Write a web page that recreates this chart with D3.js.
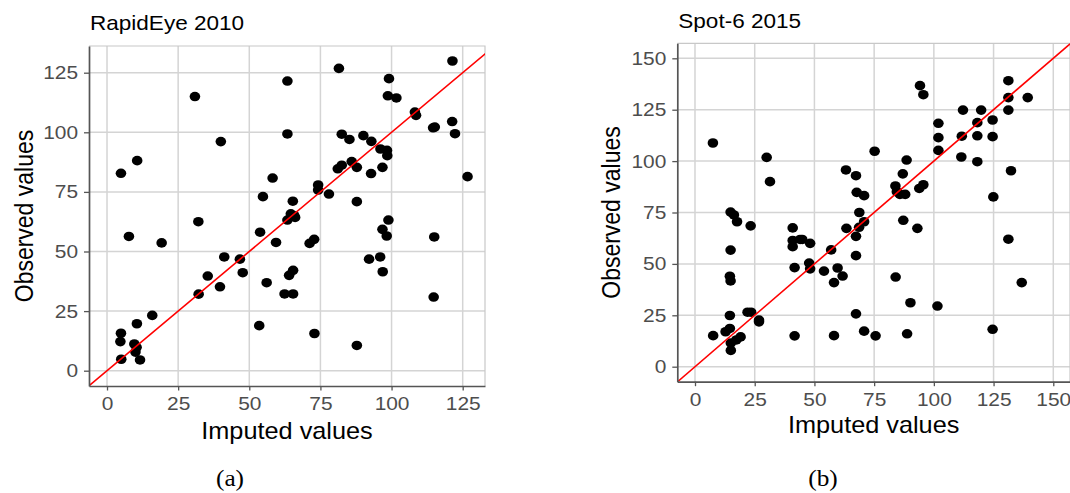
<!DOCTYPE html>
<html>
<head>
<meta charset="utf-8">
<script src="https://cdn.jsdelivr.net/npm/d3@7"></script>
<style>
  body { margin: 0; background: #fff; }
  svg { display: block; font-family: "Liberation Sans", Arial, sans-serif; }
</style>
</head>
<body>
<svg id="chart" width="1070" height="493"></svg>
<script>
// RapidEye 2010 : imputed vs observed
var rapidImputed = [81.5, 63.4, 30.9, 99.1, 98.7, 101.7, 121.4, 108.2, 108.6, 114.6, 115.2, 121.3, 122.3, 63.4, 40.0,
  82.5, 85.2, 90.1, 92.9, 96.1, 98.4, 98.5, 4.9, 10.6, 81.1, 82.5, 86.0, 87.8, 96.8, 92.8, 126.7, 58.2, 74.2, 74.2,
  78.0, 54.8, 65.3, 87.8, 32.1, 63.4, 64.6, 65.8, 66.1, 7.7, 19.2, 53.8, 59.4, 71.2, 72.8, 98.9, 96.8, 98.3, 115.0,
  41.2, 46.7, 47.7, 35.4, 39.7, 56.1, 64.0, 65.4, 62.4, 65.4, 32.2, 92.1, 96.0, 96.9, 114.8, 15.9, 10.5, 4.9, 4.7,
  9.6, 10.4, 10.0, 5.0, 11.6, 53.5, 72.9, 87.8];
var rapidObserved = [126.8, 121.5, 115.0, 122.5, 115.3, 114.4, 129.9, 108.5, 107.1, 101.9, 102.2, 104.5, 99.4, 99.3, 96.1,
  99.2, 97.0, 98.6, 96.2, 93.0, 92.4, 90.2, 82.8, 88.1, 84.7, 86.2, 87.7, 85.3, 85.3, 82.7, 81.4, 80.8, 77.9, 75.8,
  74.1, 73.0, 71.1, 70.9, 62.5, 63.2, 65.8, 65.0, 64.3, 56.3, 53.6, 58.1, 53.8, 53.4, 55.1, 63.2, 59.3, 56.5, 56.1,
  47.7, 46.8, 41.1, 39.7, 35.2, 36.9, 40.0, 42.1, 32.2, 32.2, 32.1, 46.8, 47.7, 41.5, 30.9, 23.2, 19.7, 15.7, 12.2,
  11.2, 9.8, 7.8, 4.8, 4.5, 18.9, 15.6, 10.6];

// Spot-6 2015 : imputed vs observed
var spotImputed = [7.5, 30.0, 31.4, 75.2, 94.2, 95.6, 131.2, 131.2, 139.3, 131.2, 112.2, 119.8, 118.2, 124.6, 101.9,
  101.9, 111.7, 118.2, 124.6, 101.9, 111.5, 118.2, 132.3, 124.9, 131.2, 136.8, 124.6, 101.5, 90.2, 88.8, 84.0, 88.6,
  87.0, 83.9, 84.5, 85.8, 88.0, 87.2, 93.1, 93.9, 95.6, 63.2, 67.4, 67.7, 70.8, 68.8, 70.8, 68.7, 63.4, 67.4, 67.4,
  57.0, 54.0, 59.7, 61.8, 58.2, 67.4, 70.8, 75.6, 58.2, 41.7, 40.9, 40.9, 40.9, 44.0, 44.9, 48.2, 41.7, 47.8, 48.2,
  14.9, 16.3, 17.6, 23.3, 14.9, 14.6, 14.9, 14.6, 22.0, 23.5, 26.8, 26.8, 7.6, 12.8, 14.6, 15.0, 15.0, 17.3, 19.1];
var spotObserved = [108.8, 101.8, 90.0, 104.8, 136.7, 132.3, 139.1, 130.9, 130.9, 124.8, 124.8, 124.8, 118.7, 120.0, 118.4,
  111.4, 112.1, 112.3, 111.9, 105.2, 102.0, 99.7, 95.3, 82.6, 62.0, 40.9, 18.2, 29.5, 31.1, 16.0, 43.6, 100.5,
  93.8, 87.9, 85.1, 83.8, 83.8, 71.2, 67.3, 86.7, 88.5, 95.7, 92.9, 84.8, 83.2, 75.0, 70.5, 67.8, 67.3, 63.4, 54.0,
  56.8, 46.5, 48.0, 44.1, 40.9, 25.7, 17.3, 15.0, 15.1, 15.0, 67.5, 61.4, 58.4, 61.9, 61.9, 60.0, 48.2, 50.4, 47.6,
  75.2, 73.8, 70.5, 68.5, 56.7, 44.0, 41.7, 24.9, 26.5, 26.5, 22.7, 21.8, 15.1, 17.0, 18.6, 11.5, 7.9, 13.0, 14.5];

var rapidTicks = [0, 25, 50, 75, 100, 125];
var spotTicks = [0, 25, 50, 75, 100, 125, 150];
var titles = ["RapidEye 2010", "Spot-6 2015"];
var captions = ["(a)", "(b)"];
var xLabel = "Imputed values";
var yLabel = "Observed values";

// the source figure is a little wider than tall, so text gets a horizontal stretch
var STRETCH = 1.1;

var svg = d3.select("#chart");

var panels = [
  { title: titles[0], caption: captions[0], xs: rapidImputed, ys: rapidObserved, ticks: rapidTicks,
    xDomain: [-6.33, 132.84], yDomain: [-6.42, 136.2],
    left: 89, right: 485, top: 46, bottom: 386,
    titleY: 30, xTitleY: 439, yTitleX: 33, yTitleY: 216, captionX: 230 },
  { title: titles[1], caption: captions[1], xs: spotImputed, ys: spotObserved, ticks: spotTicks,
    xDomain: [-7.41, 157.0], yDomain: [-7.3, 157.3],
    left: 677.3, right: 1070, top: 43.3, bottom: 381.7,
    titleY: 27.5, xTitleY: 433, yTitleX: 620, yTitleY: 212.5, captionX: 823 }
];

function place(sel, x, y, rot) {
  sel.attr("transform", "translate(" + x + "," + y + ") scale(" + STRETCH + ",1)" + (rot ? " rotate(" + rot + ")" : ""));
}

panels.forEach(function(p, i) {
  var g = svg.append("g");

  var x = d3.scaleLinear().domain(p.xDomain).range([p.left, p.right]);
  var y = d3.scaleLinear().domain(p.yDomain).range([p.bottom, p.top]);

  // grid
  g.selectAll(".vgrid").data(p.ticks).enter().append("line")
    .attr("x1", function(d) { return x(d); }).attr("x2", function(d) { return x(d); })
    .attr("y1", p.top).attr("y2", p.bottom)
    .attr("stroke", "#d4d4d4").attr("stroke-width", 1.5);
  g.selectAll(".hgrid").data(p.ticks).enter().append("line")
    .attr("y1", function(d) { return y(d); }).attr("y2", function(d) { return y(d); })
    .attr("x1", p.left).attr("x2", p.right)
    .attr("stroke", "#d4d4d4").attr("stroke-width", 1.5);

  // light top / right border
  g.append("path")
    .attr("d", "M" + p.left + "," + p.top + "H" + p.right + "V" + p.bottom)
    .attr("fill", "none").attr("stroke", "#c8c8c8").attr("stroke-width", 1.2);

  var clipId = "clip" + i;
  g.append("clipPath").attr("id", clipId).append("rect")
    .attr("x", p.left).attr("y", p.top)
    .attr("width", p.right - p.left).attr("height", p.bottom - p.top);

  var plot = g.append("g").attr("clip-path", "url(#" + clipId + ")");

  // points
  plot.selectAll("ellipse").data(d3.zip(p.xs, p.ys)).enter().append("ellipse")
    .attr("cx", function(d) { return x(d[0]); })
    .attr("cy", function(d) { return y(d[1]); })
    .attr("rx", 5.3).attr("ry", 4.8)
    .attr("fill", "#000");

  // 1:1 line
  var lo = Math.min(p.xDomain[0], p.yDomain[0]), hi = Math.max(p.xDomain[1], p.yDomain[1]);
  plot.append("line")
    .attr("x1", x(lo)).attr("y1", y(lo)).attr("x2", x(hi)).attr("y2", y(hi))
    .attr("stroke", "#ff0000").attr("stroke-width", 1.6);

  // axes
  var xAxis = g.append("g").attr("transform", "translate(0," + p.bottom + ")")
    .call(d3.axisBottom(x).tickValues(p.ticks).tickSize(4.5).tickSizeOuter(0).tickPadding(6.5));
  var yAxis = g.append("g").attr("transform", "translate(" + p.left + ",0)")
    .call(d3.axisLeft(y).tickValues(p.ticks).tickSize(5).tickSizeOuter(0).tickPadding(6));

  [xAxis, yAxis].forEach(function(a) {
    a.attr("font-family", null).attr("font-size", null);
    a.select(".domain").attr("stroke", "#555").attr("stroke-width", 1.7);
    a.selectAll(".tick line").attr("stroke", "#555").attr("stroke-width", 1.3);
    a.selectAll(".tick text").attr("fill", "#4d4d4d").style("font-size", "19px")
      .attr("transform", "scale(" + STRETCH + ",1)");
  });
  yAxis.selectAll(".tick text").attr("x", -11 / STRETCH);

  // titles
  g.append("text").text(p.title)
    .style("font-size", "20.5px").attr("fill", "#000")
    .call(place, p.left + 1, p.titleY);

  g.append("text").text(xLabel)
    .style("font-size", "23px").attr("fill", "#000").attr("text-anchor", "middle")
    .call(place, (p.left + p.right) / 2, p.xTitleY);

  g.append("text").text(yLabel)
    .style("font-size", "23px").attr("fill", "#000").attr("text-anchor", "middle")
    .call(place, p.yTitleX, p.yTitleY, -90);

  g.append("text").text(p.caption)
    .style("font-size", "23px").style("font-family", "'Liberation Serif', 'DejaVu Serif', serif")
    .attr("fill", "#000").attr("text-anchor", "middle")
    .call(place, p.captionX, 486);
});
</script>
</body>
</html>
